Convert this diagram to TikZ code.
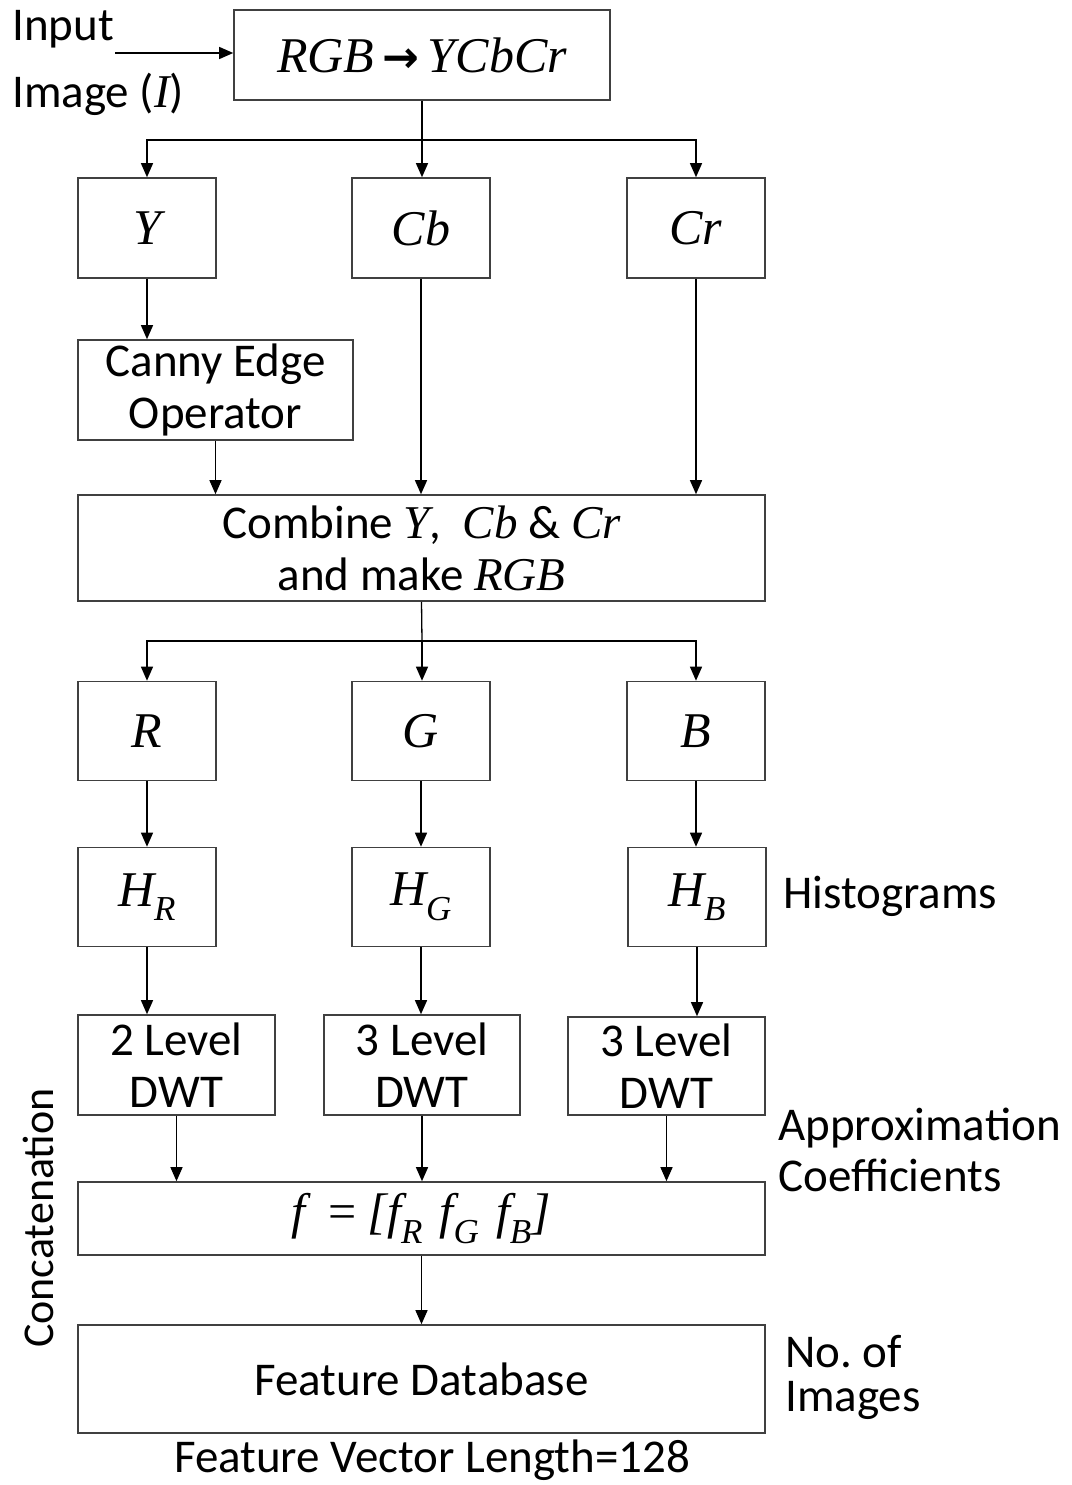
\documentclass[tikz,border=0pt]{standalone}
\usepackage{fontspec}
\setmainfont{Carlito}
\newfontfamily\mfont{Liberation Serif}
\newfontfamily\arrfont{DejaVu Sans}
\usetikzlibrary{arrows.meta}
\newcommand{\mi}[1]{{\mfont\itshape #1}}
\begin{document}
\begin{tikzpicture}[x=1pt,y=-1pt,
  box/.style={draw=black!75, line width=1.6pt, fill=white, inner sep=0pt, align=center,
    font=\fontsize{47}{52}\selectfont},
  mbox/.style={box, font=\fontsize{50}{56}\selectfont},
  lbl/.style={inner sep=0pt, align=left, font=\fontsize{47}{48}\selectfont},
  arr/.style={line width=1.3pt, -{Triangle[length=14pt,width=12pt]}},
  ln/.style={line width=1.3pt}]
\useasboundingbox (0,0) rectangle (1071,1485);
% boxes
\node[mbox, minimum width=376, minimum height=90] (conv) at (422,55) {\mi{RGB}\,{\arrfont\bfseries\fontsize{44}{50}\selectfont →}\,\mi{YCbCr}};
\node[mbox, minimum width=138, minimum height=100] (Y) at (147,228) {\mi{Y}};
\node[mbox, minimum width=138, minimum height=100] (Cb) at (421,228) {\mi{Cb}};
\node[mbox, minimum width=138, minimum height=100] (Cr) at (696,228) {\mi{Cr}};
\node[box, minimum width=275, minimum height=100] (canny) at (215.5,390) {Canny Edge\\Operator};
\node[box, minimum width=687, minimum height=106] (comb) at (421.5,548) {Combine \mi{Y}, \ \mi{Cb} \& \mi{Cr}\\and make \mi{RGB}};
\node[mbox, minimum width=138, minimum height=99] (R) at (147,731) {\mi{R}};
\node[mbox, minimum width=138, minimum height=99] (G) at (421,731) {\mi{G}};
\node[mbox, minimum width=138, minimum height=99] (B) at (696,731) {\mi{B}};
\node[mbox, minimum width=138, minimum height=99] (HR) at (147,897) {\mi{H\textsubscript{R}}};
\node[mbox, minimum width=138, minimum height=99] (HG) at (421,897) {\mi{H\textsubscript{G}}};
\node[mbox, minimum width=138, minimum height=99] (HB) at (697,897) {\mi{H\textsubscript{B}}};
\node[box, minimum width=197, minimum height=100] (D1) at (176.5,1065) {2 Level\\DWT};
\node[box, minimum width=196, minimum height=100] (D2) at (422,1065) {3 Level\\DWT};
\node[box, minimum width=197, minimum height=98] (D3) at (666.5,1066) {3 Level\\DWT};
\node[mbox, minimum width=687, minimum height=73] (f) at (421.5,1218.5) {\mi{f}\ \ {\mfont=}\ \mi{[f\textsubscript{R}\,\,f\textsubscript{G}\,\,f\textsubscript{B}]}};
\node[box, minimum width=687, minimum height=108] (fd) at (421.5,1379) {Feature Database};
% labels
\node[lbl, anchor=west] (inp) at (12,29) {Input};
\node[lbl, anchor=west] (img) at (12,94) {Image (\mi{I})};
\coordinate (inpend) at (115,53);
\node[lbl, anchor=west] (hist) at (783,896) {Histograms};
\node[lbl, anchor=west, font=\fontsize{47}{51}\selectfont] (appr) at (778,1150) {Approximation\\Coefficients};
\node[lbl, anchor=west, font=\fontsize{47}{44}\selectfont] (noi) at (785,1377) {No.\ of\\Images};
\node[lbl] (fvl) at (432,1460) {Feature Vector Length=128};
\node[lbl, rotate=90, font=\fontsize{44}{48}\selectfont] (conc) at (38,1218) {Concatenation};
% connectors
\draw[arr] (inpend) -- (inpend -| conv.west);
\coordinate (s1) at (422,140);
\draw[ln] (conv.south) -- (s1);
\draw[arr] (s1) -| (Y.north);
\draw[arr] (s1) -- (s1 |- Cb.north);
\draw[arr] (s1) -| (Cr.north);
\draw[arr] (Y.south) -- (Y.south |- canny.north);
\draw[arr] (canny.south) -- (canny.south |- comb.north);
\draw[arr] (Cb.south) -- (Cb.south |- comb.north);
\draw[arr] (Cr.south) -- (Cr.south |- comb.north);
\coordinate (s2) at (422,641);
\draw[ln] (comb.south) -- (s2);
\draw[arr] (s2) -| (R.north);
\draw[arr] (s2) -- (s2 |- G.north);
\draw[arr] (s2) -| (B.north);
\draw[arr] (R.south) -- (HR.north);
\draw[arr] (G.south) -- (HG.north);
\draw[arr] (B.south) -- (B.south |- HB.north);
\draw[arr] (HR.south) -- (HR.south |- D1.north);
\draw[arr] (HG.south) -- (HG.south |- D2.north);
\draw[arr] (HB.south) -- (HB.south |- D3.north);
\draw[arr] (D1.south) -- (D1.south |- f.north);
\draw[arr] (D2.south) -- (D2.south |- f.north);
\draw[arr] (D3.south) -- (D3.south |- f.north);
\draw[arr] (f.south) -- (fd.north);
\end{tikzpicture}
\end{document}
